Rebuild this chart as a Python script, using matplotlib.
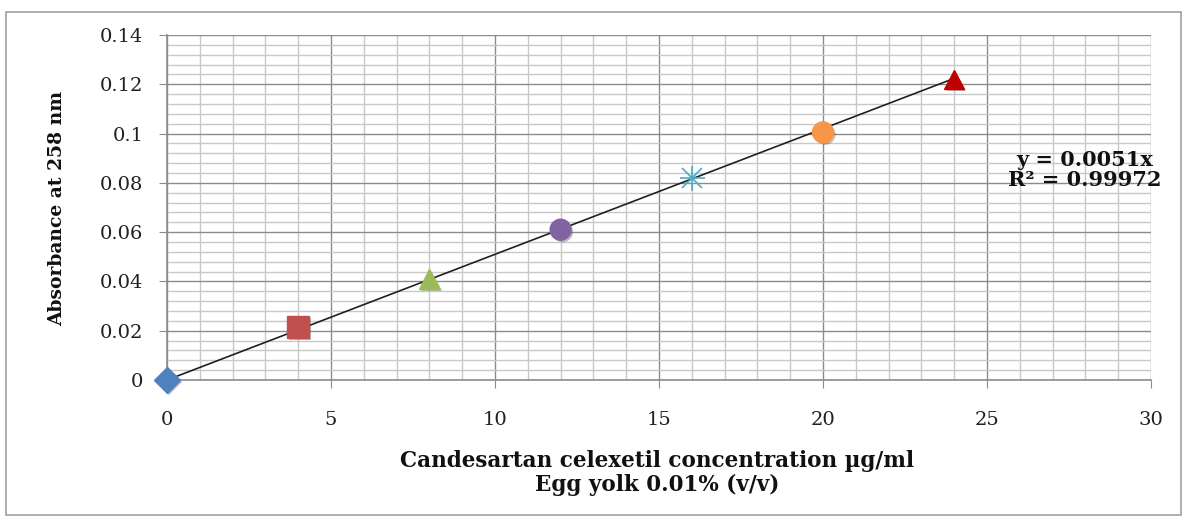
import matplotlib
matplotlib.use("Agg")
import matplotlib.pyplot as plt
import matplotlib.patheffects as pe
from matplotlib.ticker import MultipleLocator
import numpy as np

conc = [0, 4, 8, 12, 16, 20, 24]
absorb = [0.0, 0.0215, 0.0410, 0.0610, 0.0820, 0.1005, 0.1220]
colors = ["#4F81BD", "#C0504D", "#9BBB59", "#8064A2", "#4BACC6", "#F79646", "#C00000"]
markers = ["D", "s", "^", "o", "x", "o", "^"]
sizes = [13, 16, 15, 15, 15, 15, 14]
slope = 0.0051
xticks = [0, 5, 10, 15, 20, 25, 30]
xticklabels = ["0", "5", "10", "15", "20", "25", "30"]
yticks = [0, 0.02, 0.04, 0.06, 0.08, 0.10, 0.12, 0.14]
yticklabels = ["0", "0.02", "0.04", "0.06", "0.08", "0.1", "0.12", "0.14"]
eq_text = "y = 0.0051x\nR² = 0.99972"
xlabel = "Candesartan celexetil concentration µg/ml\nEgg yolk 0.01% (v/v)"
ylabel = "Absorbance at 258 nm"

serif = ["DejaVu Serif", "Liberation Serif"]
plt.rcParams["font.family"] = serif

fig = plt.figure(figsize=(11.87, 5.20), dpi=100)
ax = fig.add_axes([167/1187, 1 - 380/520, (1151-167)/1187, (380-35)/520])

# outer border
fig.add_artist(plt.Rectangle((6/1187, 5/520), 1175/1187, 503/520, transform=fig.transFigure,
                             fill=False, edgecolor="#a0a0a0", lw=1.2))

ax.set_xlim(0, 30)
ax.set_ylim(0, 0.14)
ax.set_xticks(xticks)
ax.set_xticklabels(xticklabels)
ax.set_yticks(yticks)
ax.set_yticklabels(yticklabels)
ax.xaxis.set_minor_locator(MultipleLocator(1))
ax.yaxis.set_minor_locator(MultipleLocator(0.004))
ax.grid(which="major", color="#8c8c8c", lw=1.0)
ax.grid(which="minor", color="#c8c8c8", lw=1.0)
ax.set_axisbelow(True)
for s in ["top", "right"]:
    ax.spines[s].set_visible(False)
for s in ["left", "bottom"]:
    ax.spines[s].set_color("#8c8c8c")
    ax.spines[s].set_linewidth(1.2)
ax.tick_params(which="major", length=6, color="#8c8c8c", labelsize=14,
               labelcolor="#202020")
ax.tick_params(which="minor", length=0)
ax.tick_params(axis="y", pad=11)
ax.tick_params(axis="x", pad=16)

xl = np.array([0, conc[-1]])
ax.plot(xl, slope * xl, color="#202020", lw=1.2, zorder=3)

shadow = [pe.SimplePatchShadow(offset=(1.5, -1.5), alpha=0.3), pe.Normal()]
for x, y, c, m, s in zip(conc, absorb, colors, markers, sizes):
    if m == "x":
        ax.plot(x, y, marker="x", ms=s, color=c, mew=1.2, ls="none", zorder=4, clip_on=False)
        ax.plot(x, y, marker="+", ms=s*1.2, color=c, mew=1.2, ls="none", zorder=4, clip_on=False)
    else:
        ax.plot(x, y, marker=m, ms=s, color=c, mec=c, ls="none", zorder=4, clip_on=False,
                path_effects=shadow)

fig.text(1085/1187, 1 - 170/520, eq_text, ha="center", va="center", fontsize=15,
         fontweight="bold", linespacing=1.05, color="#111111")

fig.text(657/1187, 1 - 473/520, xlabel, ha="center", va="center", fontsize=15.5,
         fontweight="bold", linespacing=1.1, color="#111111")
fig.text(57/1187, 1 - 209/520, ylabel, ha="center", va="center", fontsize=13.5,
         fontweight="bold", rotation=90, color="#111111")

fig.savefig("out.png", dpi=100)
